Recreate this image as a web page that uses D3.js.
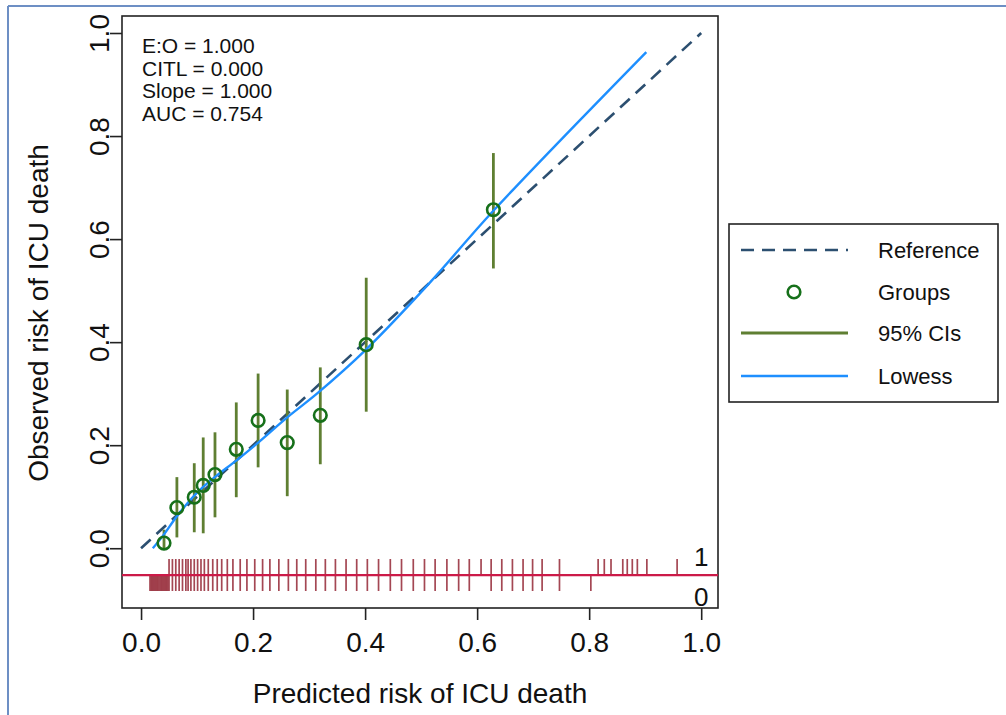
<!DOCTYPE html>
<html>
<head>
<meta charset="utf-8">
<script src="https://cdn.jsdelivr.net/npm/d3@7"></script>
<style>
  html, body { margin: 0; padding: 0; background: #fff; }
  svg { display: block; font-family: "Liberation Sans", Arial, sans-serif; }
</style>
</head>
<body>
<svg id="chart" width="1006" height="715"></svg>
<script>
// ---- data ----
const groupX  = [0.041, 0.064, 0.095, 0.111, 0.132, 0.170, 0.209, 0.261, 0.320, 0.402, 0.629];
const groupY  = [0.010, 0.079, 0.099, 0.122, 0.143, 0.192, 0.248, 0.205, 0.258, 0.395, 0.657];
const ciLow   = [0.000, 0.021, 0.031, 0.029, 0.060, 0.099, 0.157, 0.101, 0.163, 0.265, 0.543];
const ciHigh  = [0.036, 0.138, 0.165, 0.215, 0.225, 0.283, 0.339, 0.308, 0.351, 0.525, 0.767];

const lowessX = [0.021, 0.039, 0.064, 0.093, 0.114, 0.135, 0.171, 0.207, 0.261, 0.314, 0.402, 0.516, 0.629, 0.902];
const lowessY = [0.000, 0.024, 0.062, 0.100, 0.122, 0.141, 0.171, 0.203, 0.254, 0.300, 0.386, 0.516, 0.655, 0.963];

const referenceX = [0, 1];
const referenceY = [0, 1];

// predicted risks of patients who died (outcome 1) and survived (outcome 0)
const rugOnes = [0.050,0.056,0.062,0.068,0.074,0.080,0.084,0.089,0.095,0.101,0.107,0.113,0.120,0.128,0.136,0.144,
  0.154,0.164,0.177,0.189,0.203,0.217,0.230,0.246,0.263,0.278,0.294,0.312,0.329,0.347,0.366,0.385,0.404,0.424,
  0.445,0.465,0.486,0.506,0.525,0.546,0.567,0.586,0.607,0.625,0.644,0.663,0.682,0.699,0.716,0.747,
  0.816,0.827,0.839,0.860,0.868,0.877,0.886,0.903,0.957];
const rugZeros = [0.016,0.018,0.020,0.022,0.024,0.026,0.028,0.030,0.032,0.034,0.036,0.038,0.040,0.042,0.044,0.046,0.048,
  0.050,0.056,0.062,0.068,0.074,0.080,0.084,0.089,0.095,0.101,0.107,0.113,0.120,0.128,0.136,0.144,
  0.154,0.164,0.177,0.189,0.203,0.217,0.230,0.246,0.263,0.278,0.294,0.312,0.329,0.347,0.366,0.385,0.404,0.424,
  0.445,0.465,0.486,0.506,0.525,0.546,0.567,0.586,0.625,0.644,0.663,0.682,0.699,0.716,0.747,0.803];

const xTicks = [0, 0.2, 0.4, 0.6, 0.8, 1.0];
const yTicks = [0, 0.2, 0.4, 0.6, 0.8, 1.0];
const statsLabels = ["E:O = 1.000", "CITL = 0.000", "Slope = 1.000", "AUC = 0.754"];
const legendLabels = ["Reference", "Groups", "95% CIs", "Lowess"];
const xTitle = "Predicted risk of ICU death";
const yTitle = "Observed risk of ICU death";

// ---- layout ----
const svg = d3.select("#chart");
const frame = {left: 122, right: 718, top: 16, bottom: 608};
const x = d3.scaleLinear().domain([-0.034, 1.030]).range([frame.left, frame.right]);
const y = d3.scaleLinear().domain([-0.116, 1.033]).range([frame.bottom, frame.top]);

const C = {
  ref: "#2c4f70", circ: "#16701a", ci: "#5f7f32", lowess: "#1e8fff",
  rug: "#9a3340", rugLine: "#cc1a48", frame: "#222"
};

// outer page border (document frame)
svg.append("line").attr("x1", 8).attr("x2", 1006).attr("y1", 6).attr("y2", 6)
  .attr("stroke", "#6d8fc4").attr("stroke-width", 2);
svg.append("line").attr("x1", 8).attr("x2", 8).attr("y1", 6).attr("y2", 715)
  .attr("stroke", "#6d8fc4").attr("stroke-width", 2);

// plot frame
svg.append("rect").attr("x", frame.left).attr("y", frame.top)
  .attr("width", frame.right - frame.left).attr("height", frame.bottom - frame.top)
  .attr("fill", "none").attr("stroke", C.frame).attr("stroke-width", 1.6);

// axes
const xAxis = d3.axisBottom(x).tickValues(xTicks).tickFormat(d3.format(".1f")).tickSize(12).tickSizeOuter(0);
const gx = svg.append("g").attr("transform", `translate(0,${frame.bottom})`).call(xAxis);
gx.select(".domain").remove();
gx.selectAll(".tick line").attr("stroke", C.frame).attr("stroke-width", 1.6);
gx.selectAll(".tick text").attr("font-size", 28).attr("fill", "#111").attr("dy", null).attr("y", 44)
  .attr("font-family", '"Liberation Sans", Arial, sans-serif');

const yAxis = d3.axisLeft(y).tickValues(yTicks).tickFormat(d3.format(".1f")).tickSize(12).tickSizeOuter(0);
const gy = svg.append("g").attr("transform", `translate(${frame.left},0)`).call(yAxis);
gy.select(".domain").remove();
gy.selectAll(".tick line").attr("stroke", C.frame).attr("stroke-width", 1.6);
gy.selectAll(".tick text").attr("font-size", 28).attr("fill", "#111")
  .attr("x", null).attr("dy", null).attr("text-anchor", "middle")
  .attr("transform", "translate(-13,0) rotate(-90)")
  .attr("font-family", '"Liberation Sans", Arial, sans-serif');

// axis titles
svg.append("text").attr("x", (frame.left + frame.right) / 2).attr("y", 703)
  .attr("text-anchor", "middle").attr("font-size", 28).attr("fill", "#111").text(xTitle);
svg.append("text").attr("transform", `translate(48,${(frame.top + frame.bottom) / 2 + 1}) rotate(-90)`)
  .attr("text-anchor", "middle").attr("font-size", 28).attr("fill", "#111").text(yTitle);

// rug
const rugBase = y(-0.052);
const rugLen = 16;
svg.append("g").selectAll("line.one").data(rugOnes).join("line")
  .attr("x1", d => x(d)).attr("x2", d => x(d)).attr("y1", rugBase - rugLen).attr("y2", rugBase)
  .attr("stroke", C.rug).attr("stroke-width", 1.7).attr("stroke-opacity", 0.9);
svg.append("g").selectAll("line.zero").data(rugZeros).join("line")
  .attr("x1", d => x(d)).attr("x2", d => x(d)).attr("y1", rugBase).attr("y2", rugBase + rugLen)
  .attr("stroke", C.rug).attr("stroke-width", 1.7).attr("stroke-opacity", 0.9);
svg.append("line").attr("x1", frame.left).attr("x2", frame.right).attr("y1", rugBase).attr("y2", rugBase)
  .attr("stroke", C.rugLine).attr("stroke-width", 2.2);
svg.append("text").attr("x", x(1.0)).attr("y", rugBase - 9).attr("text-anchor", "middle")
  .attr("font-size", 26).attr("fill", "#111").text("1");
svg.append("text").attr("x", x(1.0)).attr("y", rugBase + 31).attr("text-anchor", "middle")
  .attr("font-size", 26).attr("fill", "#111").text("0");

// reference line
const line = d3.line().x(d => x(d[0])).y(d => y(d[1]));
svg.append("path").datum(d3.zip(referenceX, referenceY)).attr("d", line)
  .attr("fill", "none").attr("stroke", C.ref).attr("stroke-width", 2.6).attr("stroke-dasharray", "13,8");

// CIs
svg.append("g").selectAll("line").data(d3.range(groupX.length)).join("line")
  .attr("x1", i => x(groupX[i])).attr("x2", i => x(groupX[i]))
  .attr("y1", i => y(ciLow[i])).attr("y2", i => y(ciHigh[i]))
  .attr("stroke", C.ci).attr("stroke-width", 2.8);

// lowess
const lowessLine = d3.line().x(d => x(d[0])).y(d => y(d[1])).curve(d3.curveCatmullRom.alpha(0.5));
svg.append("path").datum(d3.zip(lowessX, lowessY)).attr("d", lowessLine)
  .attr("fill", "none").attr("stroke", C.lowess).attr("stroke-width", 2.4);

// group circles
svg.append("g").selectAll("circle").data(d3.range(groupX.length)).join("circle")
  .attr("cx", i => x(groupX[i])).attr("cy", i => y(groupY[i])).attr("r", 6.3)
  .attr("fill", "none").attr("stroke", C.circ).attr("stroke-width", 2.6);

// stats text
svg.append("g").selectAll("text").data(statsLabels).join("text")
  .attr("x", 142).attr("y", (d, i) => 53 + i * 22.5)
  .attr("font-size", 21).attr("fill", "#111").text(d => d);

// legend
const lg = svg.append("g");
lg.append("rect").attr("x", 729).attr("y", 224).attr("width", 269).attr("height", 178)
  .attr("fill", "#fff").attr("stroke", C.frame).attr("stroke-width", 1.6);
const rowsY = [250, 292, 333, 376];
lg.append("line").attr("x1", 741).attr("x2", 848).attr("y1", rowsY[0]).attr("y2", rowsY[0])
  .attr("stroke", C.ref).attr("stroke-width", 2.6).attr("stroke-dasharray", "13,8");
lg.append("circle").attr("cx", 794).attr("cy", rowsY[1]).attr("r", 6.3)
  .attr("fill", "none").attr("stroke", C.circ).attr("stroke-width", 2.6);
lg.append("line").attr("x1", 741).attr("x2", 848).attr("y1", rowsY[2]).attr("y2", rowsY[2])
  .attr("stroke", C.ci).attr("stroke-width", 2.8);
lg.append("line").attr("x1", 741).attr("x2", 848).attr("y1", rowsY[3]).attr("y2", rowsY[3])
  .attr("stroke", C.lowess).attr("stroke-width", 2.4);
lg.selectAll("text").data(legendLabels).join("text")
  .attr("x", 878).attr("y", (d, i) => rowsY[i] + 8)
  .attr("font-size", 22).attr("fill", "#111").text(d => d);
</script>
</body>
</html>
